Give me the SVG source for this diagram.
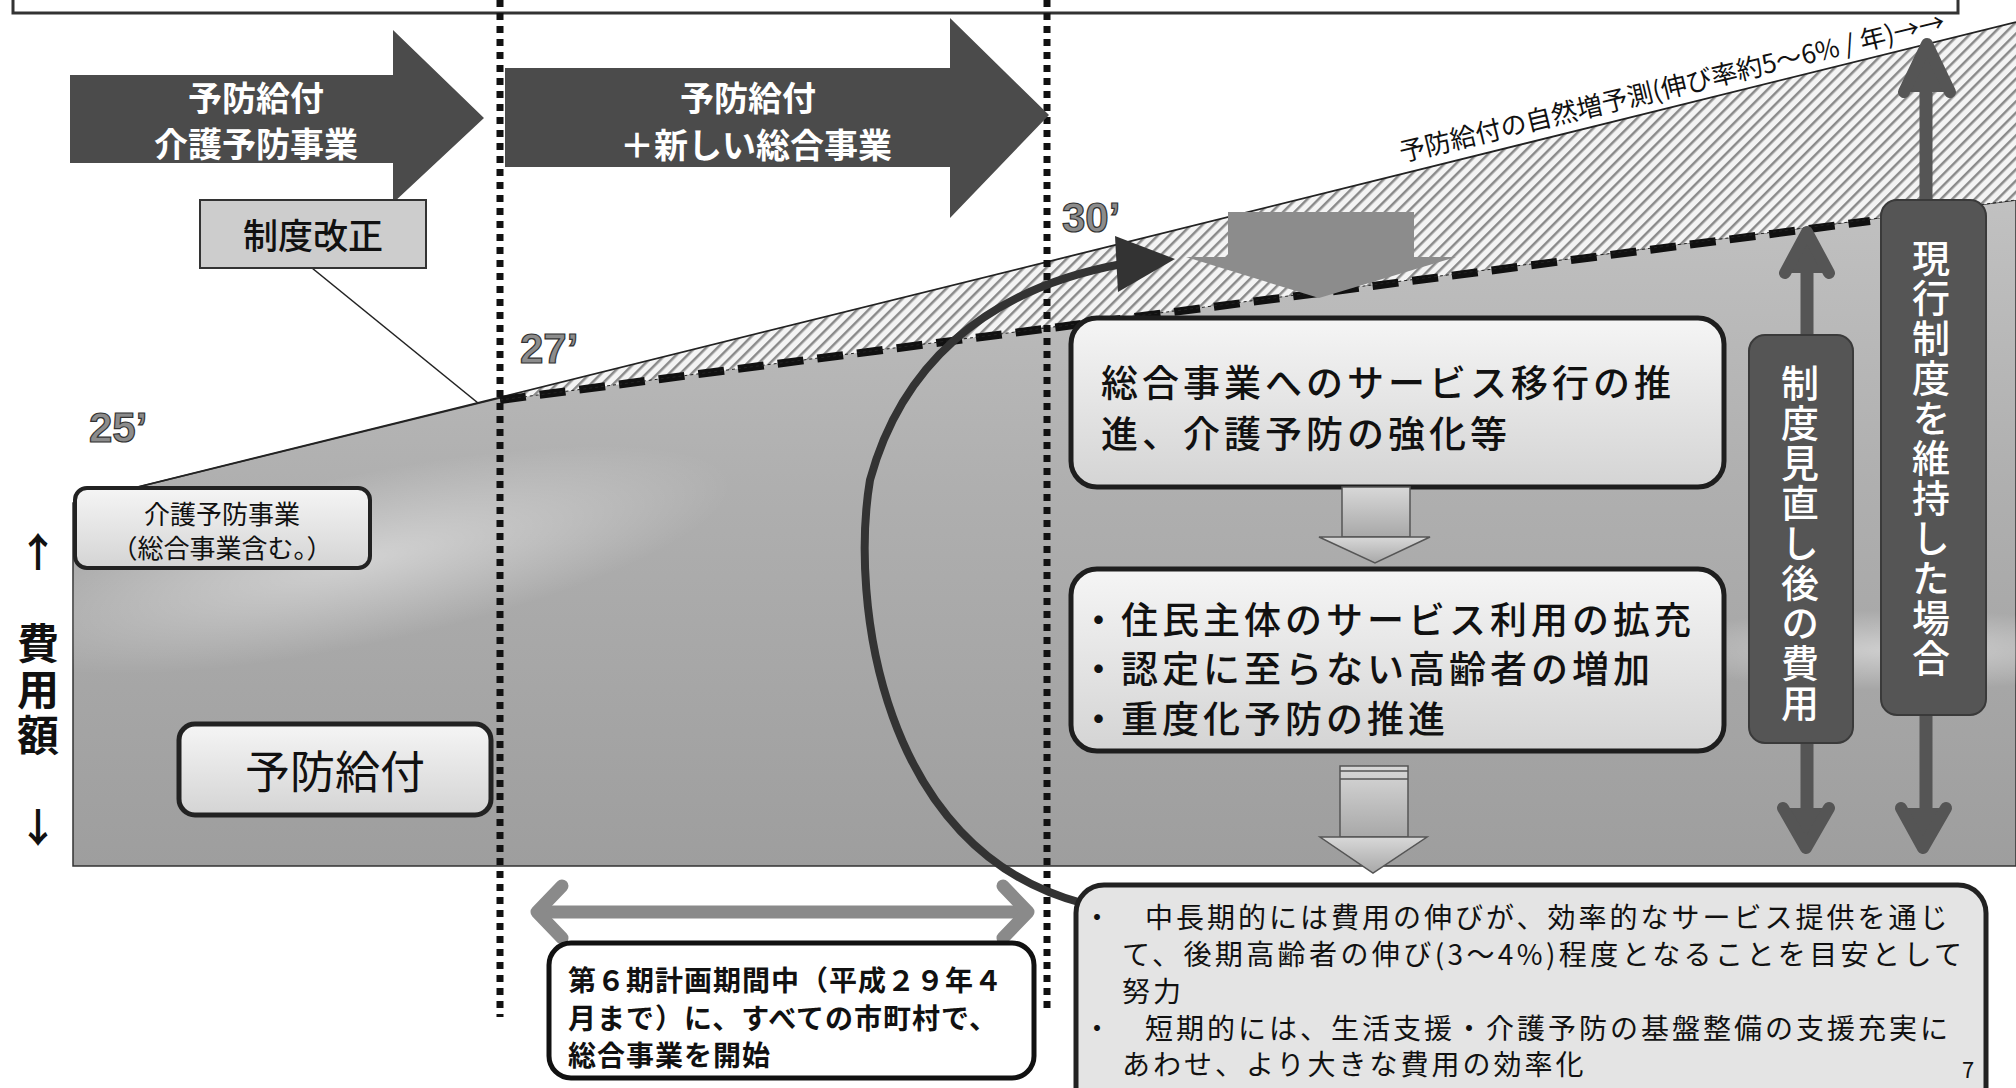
<svg xmlns="http://www.w3.org/2000/svg" width="2016" height="1088" viewBox="0 0 2016 1088">
<defs>
<style>
text{font-family:"Noto Sans CJK JP","Noto Sans",sans-serif;fill:#111}
.yr{font-family:"Liberation Sans",Arial,sans-serif;font-weight:bold;font-size:42px;fill:#8c8c8c;stroke:#333;stroke-width:1.2}
.dot{stroke:#111;stroke-width:7;stroke-dasharray:7 6;fill:none}
.big{fill:#4b4b4b}
.bigt{fill:#fff;font-size:34px;text-anchor:middle;font-weight:bold}
.box{stroke:#1e1e1e;stroke-width:5;fill:url(#boxg)}
.vbox{fill:#555;stroke:#3a3a3a;stroke-width:2}
.vtxt{fill:#fff;font-size:38px;writing-mode:vertical-rl;text-anchor:middle;letter-spacing:2px;font-weight:500}
.shaft{stroke:#555;fill:none}
.chev{stroke:#555;fill:#555;stroke-width:12;stroke-linejoin:round;stroke-linecap:round}
.t41{font-size:37px;letter-spacing:4px;font-weight:500}
.t31{font-size:28px;letter-spacing:3px}
</style>
<linearGradient id="areag" x1="0" y1="24" x2="0" y2="866" gradientUnits="userSpaceOnUse">
<stop offset="0" stop-color="#cccccc"/>
<stop offset="0.55" stop-color="#afafaf"/>
<stop offset="1" stop-color="#9e9e9e"/>
</linearGradient>
<radialGradient id="hl">
<stop offset="0" stop-color="#ffffff" stop-opacity="0.45"/>
<stop offset="1" stop-color="#ffffff" stop-opacity="0"/>
</radialGradient>
<linearGradient id="boxg" x1="0" y1="0" x2="0" y2="1">
<stop offset="0" stop-color="#f5f5f5"/>
<stop offset="1" stop-color="#d4d4d4"/>
</linearGradient>
<linearGradient id="arrg" x1="0" y1="0" x2="0" y2="1">
<stop offset="0" stop-color="#d8d8d8"/>
<stop offset="1" stop-color="#a8a8a8"/>
</linearGradient>
<pattern id="hatch" width="8" height="8" patternUnits="userSpaceOnUse" patternTransform="rotate(45)">
<rect width="8" height="8" fill="#f4f4f4"/>
<rect width="2.5" height="8" fill="#8a8a8a"/>
</pattern>
<clipPath id="areaclip"><polygon points="73,503 500,398 2016,200 2016,866 73,866"/></clipPath>
</defs>

<rect width="2016" height="1088" fill="#fff"/>

<g id="top-frame"><rect x="13" y="-20" width="1945" height="33" fill="#fff" stroke="#333" stroke-width="3"/></g>

<g id="chart-area">
<polygon points="73,503 500,398 2016,200 2016,866 73,866" fill="url(#areag)" stroke="#333" stroke-width="1.5"/>
<g clip-path="url(#areaclip)">
<ellipse cx="360" cy="560" rx="380" ry="85" fill="url(#hl)" transform="rotate(-12 360 560)"/>
<ellipse cx="1900" cy="650" rx="260" ry="40" fill="url(#hl)"/>
</g>
<polygon points="500,398 2016,22 2016,200 500,400" fill="url(#hatch)"/>
<line x1="73" y1="503" x2="2016" y2="22" stroke="#222" stroke-width="1.8"/>
<line x1="500" y1="400" x2="1870" y2="221" stroke="#111" stroke-width="8" stroke-dasharray="26 14"/>
<line x1="500" y1="400" x2="2016" y2="200" stroke="#222" stroke-width="1" stroke-dasharray="3 3"/>
</g>

<g id="year-labels">
<text class="yr" x="89" y="442">25’</text>
<text class="yr" x="520" y="363">27’</text>
<text class="yr" x="1062" y="232">30’</text>
</g>

<g id="growth-label">
<text transform="translate(1402,162) rotate(-13.6)" font-size="26">予防給付の自然増予測(伸び率約5～6% / 年)→→</text>
</g>

<g id="dotted-lines">
<line class="dot" x1="500" y1="0" x2="500" y2="1017"/>
<line class="dot" x1="1047" y1="0" x2="1047" y2="1012"/>
</g>

<g id="arrow-phase1">
<polygon class="big" points="70,75 393,75 393,30 484,118 393,203 393,163 70,163"/>
<text class="bigt" x="256" y="111">予防給付</text>
<text class="bigt" x="256" y="157">介護予防事業</text>
</g>

<g id="arrow-phase2">
<polygon class="big" points="505,68 950,68 950,18 1049,115 950,218 950,167 505,167"/>
<text class="bigt" x="748" y="111" font-size="37">予防給付</text>
<text class="bigt" x="756" y="158" font-size="37">＋新しい総合事業</text>
</g>

<g id="seido-kaisei">
<line x1="312" y1="268" x2="478" y2="403" stroke="#222" stroke-width="1.6"/>
<rect x="200" y="200" width="226" height="68" fill="#cdcdcd" stroke="#333" stroke-width="2"/>
<text x="313" y="249" font-size="35" text-anchor="middle" font-weight="500">制度改正</text>
</g>

<g id="axis-label">
<text x="38" y="567" font-size="40" font-weight="bold" text-anchor="middle">↑</text>
<text x="38" y="691" font-size="42" font-weight="bold" style="writing-mode:vertical-rl;text-anchor:middle;letter-spacing:4px">費用額</text>
<text x="38" y="842" font-size="40" font-weight="bold" text-anchor="middle">↓</text>
</g>

<g id="kaigo-yobo-box">
<rect x="75" y="488" width="295" height="80" rx="12" fill="url(#boxg)" stroke="#222" stroke-width="4"/>
<text x="222" y="524" font-size="26" text-anchor="middle">介護予防事業</text>
<text x="222" y="558" font-size="26" text-anchor="middle">（総合事業含む。）</text>
</g>

<g id="yobo-kyufu-box">
<rect x="179" y="724" width="312" height="91" rx="16" fill="url(#boxg)" stroke="#222" stroke-width="5"/>
<text x="335" y="789" font-size="45" text-anchor="middle">予防給付</text>
</g>

<g id="reduction-arrow">
<rect x="1228" y="212" width="186" height="46" fill="#8c8c8c"/>
<polygon points="1186,257 1456,257 1319,298" fill="#8c8c8c"/>
</g>

<g id="double-arrow-revised">
<line class="shaft" x1="1807" y1="240" x2="1807" y2="840" stroke-width="13"/>
<polyline class="chev" points="1785,273 1807,232 1829,273"/>
<polyline class="chev" points="1783,808 1806,848 1829,808"/>
</g>

<g id="double-arrow-current">
<line class="shaft" x1="1926" y1="50" x2="1926" y2="840" stroke-width="13"/>
<polyline class="chev" points="1904,92 1927,44 1950,92"/>
<polyline class="chev" points="1901,808 1923,848 1946,808"/>
</g>

<g id="box-shift">
<rect x="1071" y="318" width="653" height="169" rx="26" class="box"/>
<text class="t41" x="1101" y="397">総合事業へのサービス移行の推</text>
<text class="t41" x="1101" y="448">進、介護予防の強化等</text>
</g>

<g id="arrow-mid">
<rect x="1342" y="487" width="68" height="50" fill="url(#arrg)" stroke="#555" stroke-width="1.5"/>
<polygon points="1319,537 1430,537 1375,563" fill="url(#arrg)" stroke="#555" stroke-width="1.5"/>
</g>

<g id="box-measures">
<rect x="1071" y="569" width="653" height="182" rx="26" class="box"/>
<text class="t41" x="1080" y="634">・住民主体のサービス利用の拡充</text>
<text class="t41" x="1080" y="683">・認定に至らない高齢者の増加</text>
<text class="t41" x="1080" y="733">・重度化予防の推進</text>
</g>

<g id="arrow-low">
<rect x="1340" y="766" width="68" height="71" fill="url(#arrg)" stroke="#555" stroke-width="1.5"/>
<line x1="1340" y1="771" x2="1408" y2="771" stroke="#555" stroke-width="1.5"/>
<line x1="1340" y1="779" x2="1408" y2="779" stroke="#555" stroke-width="1.5"/>
<polygon points="1320,837 1427,837 1373,873" fill="url(#arrg)" stroke="#555" stroke-width="1.5"/>
</g>

<g id="box-revised-cost">
<rect x="1749" y="335" width="104" height="408" rx="16" class="vbox"/>
<text class="vtxt" x="1800" y="544">制度見直し後の費用</text>
</g>

<g id="box-current-cost">
<rect x="1881" y="200" width="105" height="515" rx="16" class="vbox"/>
<text class="vtxt" x="1931" y="459">現行制度を維持した場合</text>
</g>

<g id="connectors">
<path d="M1082,903 C 880,850 850,600 870,480 C 900,370 980,290 1122,264" fill="none" stroke="#333" stroke-width="8"/>
<polygon points="1115,236 1175,259 1118,292" fill="#333"/>
<line x1="542" y1="912" x2="1022" y2="912" stroke="#8a8a8a" stroke-width="13"/>
<polyline points="562,886 537,912 562,938" fill="none" stroke="#8a8a8a" stroke-width="13" stroke-linejoin="round" stroke-linecap="round"/>
<polyline points="1003,886 1028,912 1003,938" fill="none" stroke="#8a8a8a" stroke-width="13" stroke-linejoin="round" stroke-linecap="round"/>
</g>

<g id="box-period">
<rect x="549" y="943" width="485" height="135" rx="22" fill="#fff" stroke="#111" stroke-width="5"/>
<text x="568" y="991" font-size="28" font-weight="bold" letter-spacing="1">第６期計画期間中（平成２９年４</text>
<text x="568" y="1029" font-size="28" font-weight="bold" letter-spacing="1">月まで）に、すべての市町村で、</text>
<text x="568" y="1066" font-size="28" font-weight="bold" letter-spacing="1">総合事業を開始</text>
</g>

<g id="box-goal">
<rect x="1076" y="885" width="910" height="230" rx="28" fill="#e4e4e4" stroke="#222" stroke-width="5"/>
<text class="t31" x="1083" y="928">・　中長期的には費用の伸びが、効率的なサービス提供を通じ</text>
<text class="t31" x="1122" y="965" textLength="843" lengthAdjust="spacing">て、後期高齢者の伸び(3～4%)程度となることを目安として</text>
<text class="t31" x="1122" y="1002">努力</text>
<text class="t31" x="1083" y="1039">・　短期的には、生活支援・介護予防の基盤整備の支援充実に</text>
<text class="t31" x="1122" y="1075">あわせ、より大きな費用の効率化</text>
<text x="1962" y="1078" font-size="22" font-family="Liberation Sans, Arial, sans-serif">7</text>
</g>
</svg>
